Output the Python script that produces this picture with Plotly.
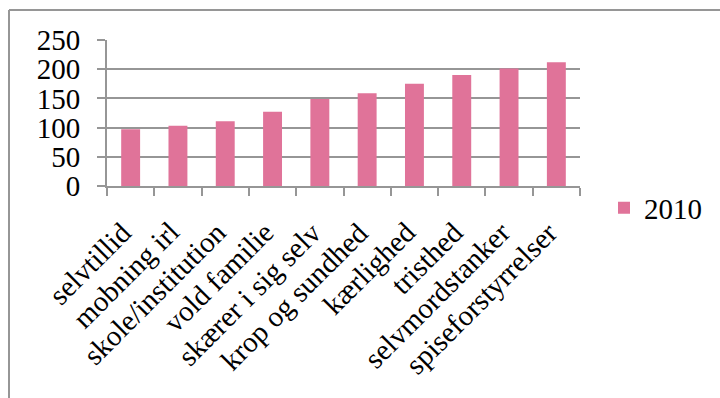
import plotly.graph_objects as go

categories = ["selvtillid", "mobning irl", "skole/institution", "vold familie",
              "skærer i sig selv", "krop og sundhed", "kærlighed", "tristhed",
              "selvmordstanker", "spiseforstyrrelser"]
values_2010 = [97, 103, 111, 127, 149, 159, 175, 190, 201, 212]
y_ticks = [0, 50, 100, 150, 200, 250]
series_name = "2010"

FONT = "Liberation Serif"
FS = 29
GRAY = "#969696"
PINK = "#E07399"

fig = go.Figure()
fig.add_trace(go.Bar(x=categories, y=values_2010, name=series_name,
                     marker=dict(color=PINK, line=dict(width=0)),
                     showlegend=True))

# category labels, rotated like the reference
for c in categories:
    fig.add_annotation(x=c, y=0, xref="x", yref="y", text=c, showarrow=False,
                       textangle=-45, xanchor="right", yanchor="top",
                       xshift=10, yshift=-27,
                       font=dict(family=FONT, size=FS, color="black"))

W, H = 720, 398
L, R, T, B = 107, 140, 40, 212
pw, ph = W - L - R, H - T - B

fig.update_layout(
    width=W, height=H,
    margin=dict(l=L, r=R, t=T, b=B, autoexpand=False),
    paper_bgcolor="white", plot_bgcolor="white",
    font=dict(family=FONT, size=FS, color="black"),
    bargap=0.6,
    showlegend=True,
    legend=dict(x=(604 - L) / pw, y=(186 - 208) / ph, xanchor="left", yanchor="middle",
                font=dict(family=FONT, size=FS), itemwidth=30,
                bgcolor="rgba(0,0,0,0)", tracegroupgap=0),
    xaxis=dict(range=[-0.5, len(categories) - 0.5], autorange=False,
               showline=True, linecolor=GRAY, linewidth=2,
               ticks="outside", tickson="boundaries", ticklen=8, tickwidth=2,
               tickcolor=GRAY, showgrid=False, showticklabels=False),
    yaxis=dict(range=[0, 250], autorange=False, tickvals=y_ticks, showline=True,
               linecolor=GRAY,
               linewidth=2, ticks="outside", ticklen=8, tickwidth=2, tickcolor=GRAY,
               showgrid=True, gridcolor=GRAY, gridwidth=2, zeroline=False,
               ticklabelstandoff=11,
               tickfont=dict(family=FONT, size=FS)),
    shapes=[
        dict(type="line", xref="paper", yref="paper",
             x0=(9 - L) / pw, x1=(730 - L) / pw, y0=(186 - 10) / ph, y1=(186 - 10) / ph,
             line=dict(color=GRAY, width=2)),
        dict(type="line", xref="paper", yref="paper",
             x0=(9 - L) / pw, x1=(9 - L) / pw, y0=(186 - 10) / ph, y1=(186 - 410) / ph,
             line=dict(color=GRAY, width=2)),
    ],
)

fig.write_html("out.html")
